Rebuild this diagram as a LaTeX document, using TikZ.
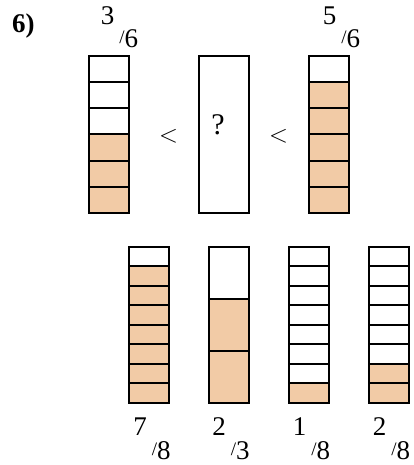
\documentclass[tikz,border=0pt]{standalone}
\usepackage{fontspec}
\setmainfont{Liberation Serif}
\definecolor{peach}{RGB}{242,203,166}
% numerator raised, small slash, denominator on the baseline
\newcommand{\frc}[2]{\raisebox{23.5pt}{#1}\kern5pt\raisebox{4pt}{\fontsize{19}{19}\selectfont/}#2}
% left x, top y, height, parts, shaded parts
\newcommand{\fracbar}[5]{%
  \fill[part] (#1,{#2+#3*(#4-#5)/#4}) rectangle (#1+40,#2+#3);
  \foreach \i in {1,...,#4}
    \draw[cell] (#1,{#2+(\i-1)*#3/#4}) rectangle (#1+40,{#2+\i*#3/#4});
}
\begin{document}
\begin{tikzpicture}[x=1pt, y=-1pt, line join=miter,
    cell/.style={draw=black, line width=2pt},
    part/.style={fill=peach},
    lbl/.style={anchor=base, inner sep=0pt, font=\fontsize{27}{27}\selectfont},
    sgn/.style={inner sep=0pt, font=\fontsize{30}{30}\selectfont}]
	\useasboundingbox (0,0) rectangle (414,465);
	% top row
	\fracbar{89}{56.5}{156}{6}{3}
	\fracbar{309}{56.5}{156}{6}{5}
	\node[cell, minimum width=49.5pt, minimum height=156pt, inner sep=0pt] (q) at (224,134.5) {};
	\node[sgn] (qm) at (218,125) {?};
	\node[sgn] (lt1) at (168.5,136.5) {$<$};
	\node[sgn] (lt2) at (278.5,136.5) {$<$};
	\node[lbl, anchor=base west] (num) at (12,33) {\textbf{6)}};
	\node[lbl] (f36) at (119.5,48) {\frc{3}{6}};
	\node[lbl] (f56) at (341.5,48) {\frc{5}{6}};
	% bottom row
	\fracbar{129}{246.5}{156}{8}{7}
	\fracbar{209}{246.5}{156}{3}{2}
	\fracbar{289}{246.5}{156}{8}{1}
	\fracbar{369}{246.5}{156}{8}{2}
	\node[lbl] (f78) at (152,459) {\frc{7}{8}};
	\node[lbl] (f23) at (231,459) {\frc{2}{3}};
	\node[lbl] (f18) at (311.5,459) {\frc{1}{8}};
	\node[lbl] (f28) at (391.5,459) {\frc{2}{8}};
\end{tikzpicture}
\end{document}
